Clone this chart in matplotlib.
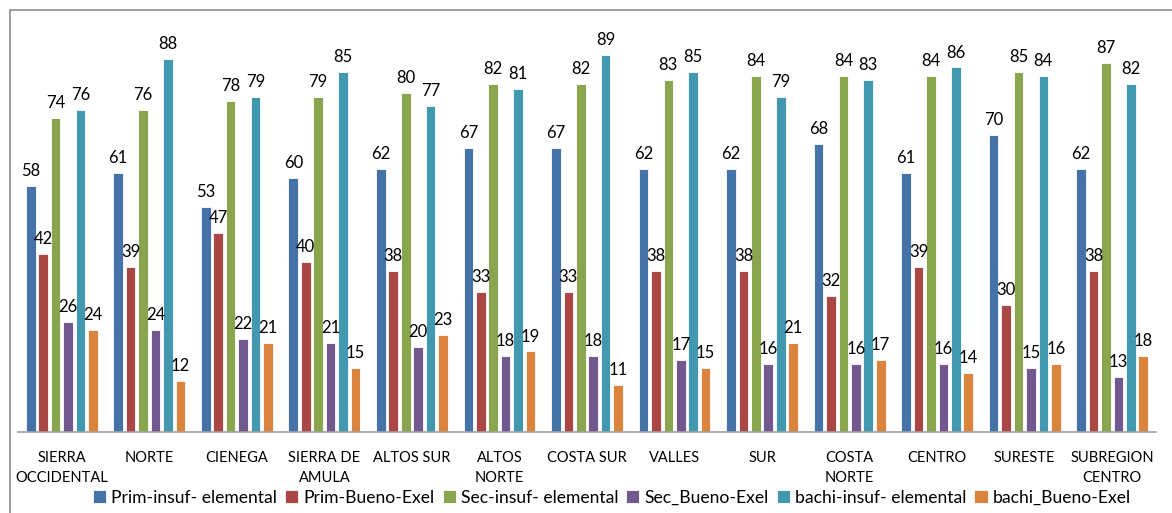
import matplotlib.pyplot as plt
from matplotlib.patches import Rectangle
import numpy as np

plt.rcParams['font.family'] = ['Lato', 'DejaVu Sans']

# Data
regions = ["SIERRA\nOCCIDENTAL", "NORTE", "CIENEGA", "SIERRA DE\nAMULA", "ALTOS SUR",
           "ALTOS\nNORTE", "COSTA SUR", "VALLES", "SUR", "COSTA\nNORTE", "CENTRO",
           "SURESTE", "SUBREGION\nCENTRO"]
prim_insuf = [58, 61, 53, 60, 62, 67, 67, 62, 62, 68, 61, 70, 62]
prim_bueno = [42, 39, 47, 40, 38, 33, 33, 38, 38, 32, 39, 30, 38]
sec_insuf = [74, 76, 78, 79, 80, 82, 82, 83, 84, 84, 84, 85, 87]
sec_bueno = [26, 24, 22, 21, 20, 18, 18, 17, 16, 16, 16, 15, 13]
bachi_insuf = [76, 88, 79, 85, 77, 81, 89, 85, 79, 83, 86, 84, 82]
bachi_bueno = [24, 12, 21, 15, 23, 19, 11, 15, 21, 17, 14, 16, 18]

series = [prim_insuf, prim_bueno, sec_insuf, sec_bueno, bachi_insuf, bachi_bueno]
names = ["Prim-insuf- elemental", "Prim-Bueno-Exel", "Sec-insuf- elemental",
         "Sec_Bueno-Exel", "bachi-insuf- elemental", "bachi_Bueno-Exel"]
colors = ["#4572A7", "#AA4643", "#89A54E", "#71588F", "#4198AF", "#DB843D"]

W, H = 1172, 513
fig = plt.figure(figsize=(W / 100, H / 100), dpi=100)

# outer chart border
fig.patches.append(Rectangle((10 / W, -0.05), 1.2, (H - 10) / H + 0.05,
                             transform=fig.transFigure, fill=False,
                             edgecolor="#8c8c8c", linewidth=1.2))

ax = fig.add_axes([18 / W, (H - 432) / H, (1156 - 18) / W, (432 - 20) / H])

x = np.arange(len(regions))
pitch = 0.142
width = 0.11
for i, (vals, name, c) in enumerate(zip(series, names, colors)):
    pos = x + (i - 2.5) * pitch
    ax.bar(pos, vals, width, color=c, edgecolor="white", linewidth=0.6, label=name)
    for p, v in zip(pos, vals):
        ax.annotate(str(v), (p, v), xytext=(0, 5), textcoords="offset points",
                    ha="center", va="bottom", fontsize=12, color="black")

ax.set_xlim(-0.5, len(regions) - 0.5)
ax.set_ylim(0, 412 / 4.239)
ax.set_yticks([])
ax.set_xticks(x)
ax.set_xticklabels(regions, fontsize=10.5, linespacing=1.55)
ax.tick_params(axis="x", length=0, pad=14)
for s in ["top", "right", "left"]:
    ax.spines[s].set_visible(False)
ax.spines["bottom"].set_color("#a0a0a0")
ax.spines["bottom"].set_linewidth(1.2)

fig.legend(loc="center", bbox_to_anchor=(612 / W, (H - 498) / H), ncol=6,
           frameon=False, fontsize=12.6, handlelength=0.75, handleheight=0.75,
           handletextpad=0.3, columnspacing=0.45, borderpad=0)

fig.savefig("out.png", dpi=100)
